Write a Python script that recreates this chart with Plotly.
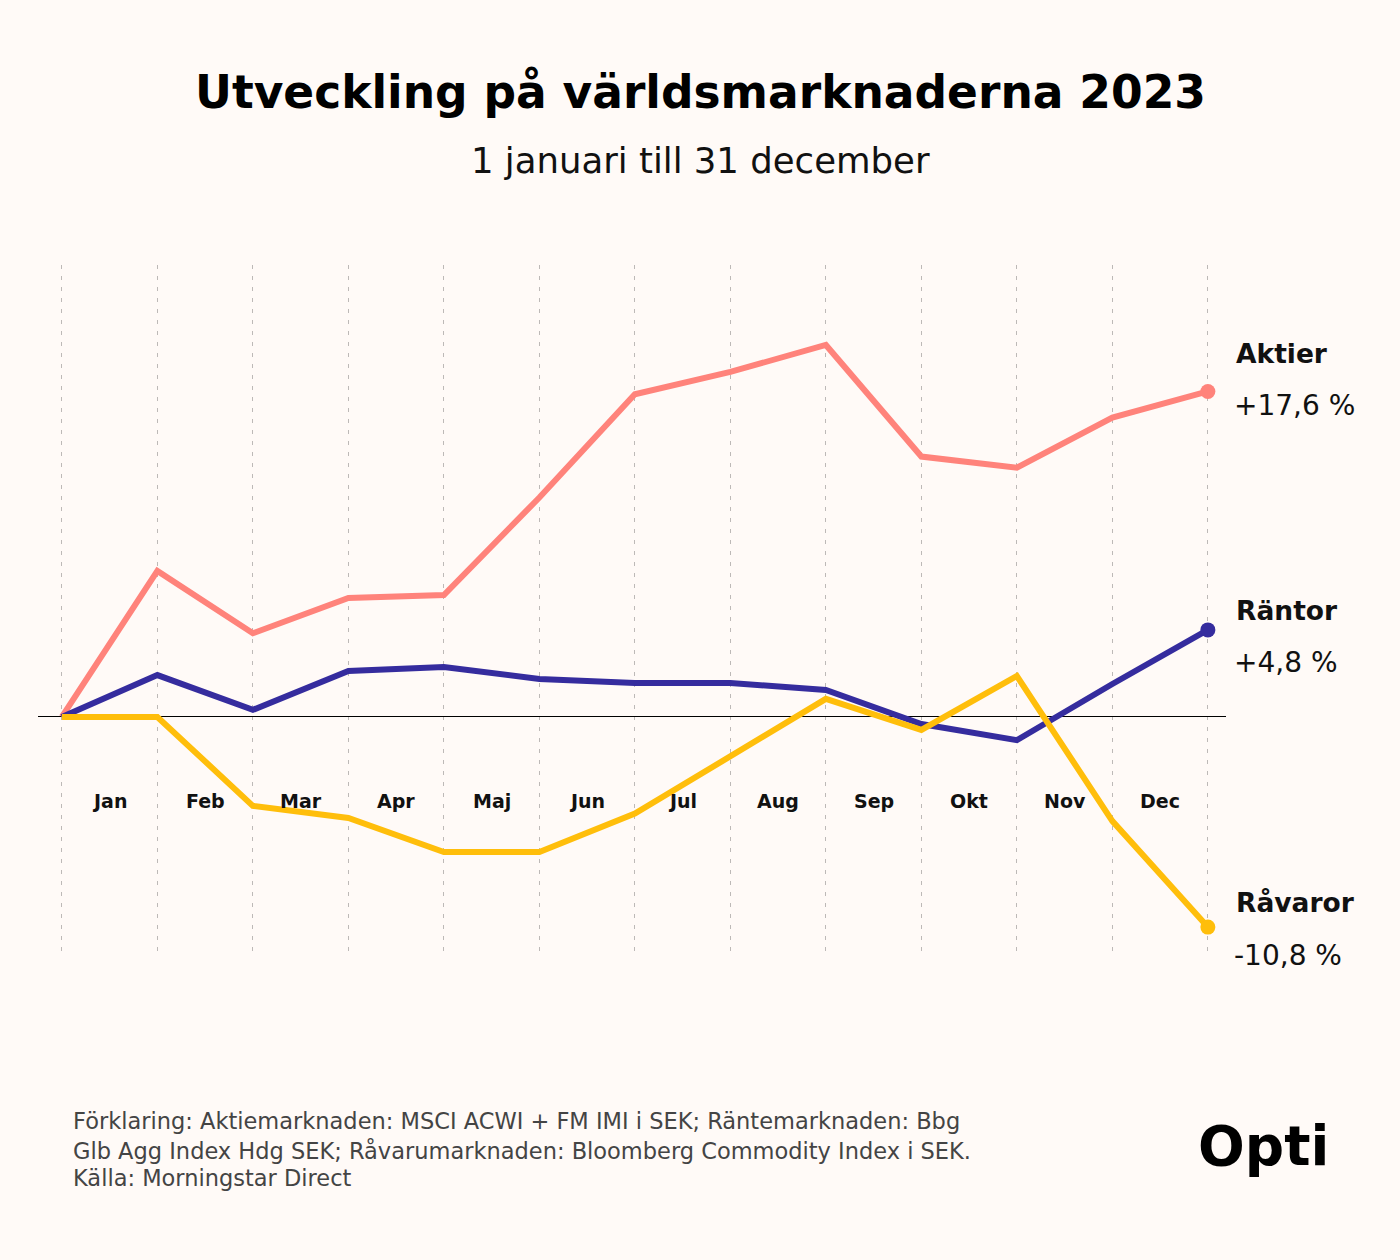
import plotly.graph_objects as go

months = ['Jan', 'Feb', 'Mar', 'Apr', 'Maj', 'Jun', 'Jul', 'Aug', 'Sep', 'Okt', 'Nov', 'Dec']
# 13 points: start of Jan ... end of Dec
aktier = [0, 7.85, 4.5, 6.4, 6.55, 11.8, 17.35, 18.55, 20.0, 14.0, 13.4, 16.1, 17.5]
rantor = [0, 2.25, 0.38, 2.47, 2.68, 2.04, 1.83, 1.83, 1.45, -0.38, -1.25, 1.77, 4.68]
ravaror = [0, 0, -4.78, -5.43, -7.26, -7.26, -5.2, -2.15, 0.97, -0.7, 2.2, -5.6, -11.3]
end_names = ['Aktier', 'Räntor', 'Råvaror']
end_values = ['+17,6 %', '+4,8 %', '-10,8 %']

colors = ['#FF837B', '#352C9E', '#FFBE0B']
bg = '#FFFAF7'
font = 'DejaVu Sans'

OFF = 8  # page body margin
W, H = 1400 - OFF, 1260 - OFF
L, R, T, B = 38 - OFF, 174, 265 - OFF, 305
pw, ph = W - L - R, H - T - B


def px(x):
    return (x - OFF - L) / pw


def py(y):
    return (H - B - (y - OFF)) / ph


fig = go.Figure()
x = list(range(13))
for name, vals, c in zip(end_names, [aktier, rantor, ravaror], colors):
    fig.add_trace(go.Scatter(x=x, y=vals, mode='lines', name=name,
                             line=dict(color=c, width=6), hoverinfo='skip'))
for vals, c in zip([aktier, rantor, ravaror], colors):
    fig.add_trace(go.Scatter(x=[x[-1]], y=[vals[-1]], mode='markers',
                             marker=dict(color=c, size=15), hoverinfo='skip'))

ann = []
for i, m in enumerate(months):
    ann.append(dict(x=i + 0.5, y=-4.5, text=m, showarrow=False,
                    font=dict(family=font, size=19, color='#111', weight=600)))

name_y = [353, 610, 902]
val_y = [405, 662, 955]
for n, v, ny, vy in zip(end_names, end_values, name_y, val_y):
    ann.append(dict(xref='paper', yref='paper', x=px(1234), y=py(ny), text=n,
                    showarrow=False, xanchor='left', yanchor='middle',
                    font=dict(family=font, size=26.5, color='#111', weight=600)))
    ann.append(dict(xref='paper', yref='paper', x=px(1232), y=py(vy), text=v,
                    showarrow=False, xanchor='left', yanchor='middle',
                    font=dict(family=font, size=28, color='#111', weight=400)))

ann.append(dict(xref='paper', yref='paper', x=px(700), y=py(92),
                text='<b>Utveckling på världsmarknaderna 2023</b>',
                showarrow=False, xanchor='center', yanchor='middle',
                font=dict(family=font, size=45.5, color='#000')))
ann.append(dict(xref='paper', yref='paper', x=px(700), y=py(160),
                text='1 januari till 31 december', showarrow=False,
                xanchor='center', yanchor='middle',
                font=dict(family=font, size=35.5, color='#111', weight=400)))

foot = ['Förklaring: Aktiemarknaden: MSCI ACWI + FM IMI i SEK; Räntemarknaden: Bbg',
        'Glb Agg Index Hdg SEK; Råvarumarknaden: Bloomberg Commodity Index i SEK.',
        'Källa: Morningstar Direct']
for line, fy in zip(foot, [1121, 1150, 1178]):
    ann.append(dict(xref='paper', yref='paper', x=px(71), y=py(fy), text=line,
                    showarrow=False, xanchor='left', yanchor='middle',
                    font=dict(family=font, size=22.5, color='#444', weight=400)))

ann.append(dict(xref='paper', yref='paper', x=px(1196), y=py(1146), text='Opti',
                showarrow=False, xanchor='left', yanchor='middle',
                font=dict(family=font, size=55, color='#000', weight=700)))

fig.update_layout(
    width=W, height=H,
    margin=dict(l=L, r=R, t=T, b=B),
    paper_bgcolor=bg, plot_bgcolor=bg,
    showlegend=False,
    annotations=ann,
    xaxis=dict(range=[-0.25, 12.19], tickvals=x, showticklabels=False,
               showgrid=True, gridcolor='#BDB9B7', gridwidth=1,
               griddash='4px,7px', zeroline=False, fixedrange=True),
    yaxis=dict(range=[-12.8, 24.3], showticklabels=False, showgrid=False,
               zeroline=True, zerolinecolor='#000', zerolinewidth=1,
               fixedrange=True),
)

fig.write_html('out.html', post_script="document.body.style.background = '%s';" % bg)
